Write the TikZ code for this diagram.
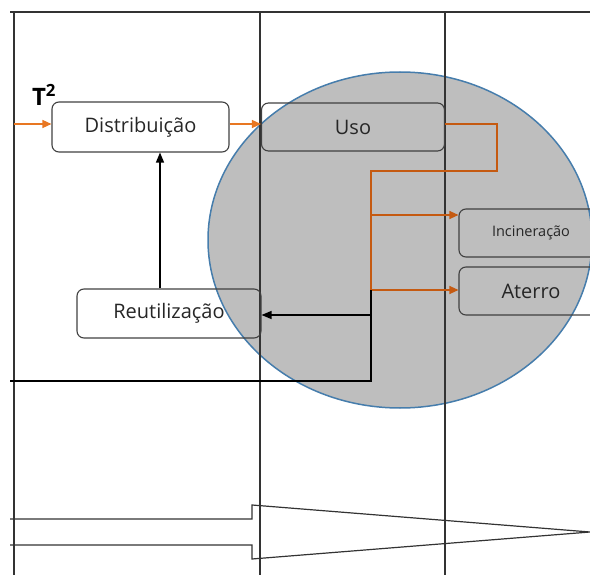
\documentclass[tikz,border=0pt]{standalone}
\usepackage{fontspec}
\setmainfont{Open Sans}
\usetikzlibrary{arrows.meta}

\definecolor{flowor}{RGB}{232,119,34}
\definecolor{linkor}{RGB}{197,90,17}
\definecolor{zonegray}{RGB}{190,190,190}
\definecolor{zoneedge}{RGB}{70,125,172}

\begin{document}
\begin{tikzpicture}[x=1pt, y=-1pt,
  stage/.style={draw=black!75, rounded corners=7pt, line width=1.1pt,
                align=center, inner sep=0pt, text=black!85,
                font=\fontsize{20}{24}\selectfont},
  lane/.style={draw=black!80, line width=1.6pt},
  flow/.style={-{Triangle[length=9pt,width=8pt]}, draw=flowor, line width=1.4pt},
  link/.style={draw=linkor, line width=1.1pt},
  linkarrow/.style={link, -{Triangle[length=9pt,width=8pt]}},
  back/.style={-{Triangle[length=10pt,width=8pt]}, draw=black, line width=1.3pt},
]
  \useasboundingbox (0,0) rectangle (590,575);
  \clip (0,0) rectangle (590,575);

  % Shaded zone behind everything
  \filldraw[fill=zonegray, draw=zoneedge, line width=1.5pt] (400,240) ellipse [x radius=192, y radius=168];

  % Lanes
  \draw[lane] (10,12) -- (590,12);
  \draw[lane] (14,12) -- (14,575);
  \draw[lane] (260,12) -- (260,575);
  \draw[lane] (445,12) -- (445,575);

  % Stages
  \node[stage, minimum width=177pt, minimum height=50pt] (dist) at (140.5,127)   {Distribuição};
  \node[stage, minimum width=183pt, minimum height=48pt] (uso)  at (353,127)     {Uso};
  \node[stage, minimum width=184pt, minimum height=49pt] (reuse) at (169,313.5)  {Reutilização};
  \node[stage, minimum width=144pt, minimum height=48pt,
        font=\fontsize{14.5}{17}\selectfont] (inc) at (531,233) {Incineração};
  \node[stage, minimum width=144pt, minimum height=48pt] (aterro) at (531,291)  {Aterro};

  \node[font=\fontsize{24}{28}\selectfont\bfseries, inner sep=0pt] (tlabel) at (44,95) {T\textsuperscript{2}};

  % Helper points
  \coordinate (inlet) at (14,124);
  \coordinate (bend)  at (497,124);
  \coordinate (trunk) at (371,171);
  \coordinate (foot)  at (371,290);
  \coordinate (floor) at (10,381);

  % Forward flow
  \draw[flow] (inlet) -- (inlet -| dist.west);
  \draw[flow] (dist.east |- inlet) -- (uso.west |- inlet);

  % Disposal branches
  \draw[link] (uso.east |- bend) -- (bend) |- (trunk) -- (foot);
  \draw[linkarrow] (trunk |- 0,215) -- ([yshift=18pt]inc.west);
  \draw[linkarrow] (foot) -- (aterro.west |- foot);

  % Return path
  \draw[line width=1.3pt] (floor) -| (371,290);
  \draw[back] (371,315) -- (reuse.east |- 0,315);
  \draw[back] (reuse.north -| 160,0) -- (dist.south -| 160,0);

  % Tapered bottom band
  \draw[draw=black!80, line width=1.2pt]
    (10,519) -- (252,519) -- (252,505) -- (590,532)
    -- (252,559) -- (252,545) -- (10,545);
\end{tikzpicture}
\end{document}
